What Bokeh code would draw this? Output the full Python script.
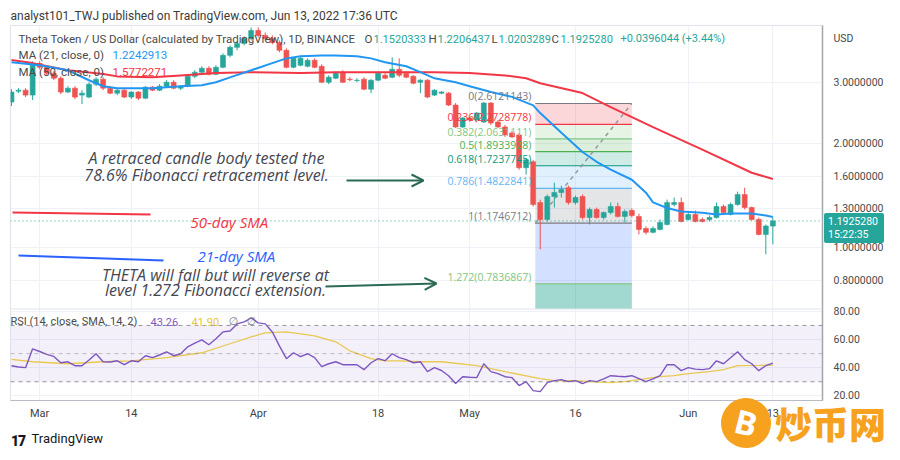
import math
import pandas as pd
from bokeh.plotting import figure
from bokeh.layouts import column
from bokeh.models import (Range1d, FixedTicker, Label, Arrow, OpenHead, Span, Title, Div,
                          BoxAnnotation, ColumnDataSource, LinearScale)
from bokeh.embed import file_html
from bokeh.resources import INLINE

# ---------------- data ----------------
dates = pd.date_range("2022-02-25", "2022-06-13", freq="D")

opens = [2.637, 2.836, 2.855, 2.762, 3.416, 3.326, 3.196, 3.092, 2.818, 2.893,
         2.762, 2.726, 2.971, 3.072, 2.893, 2.799, 2.855, 2.726, 2.818, 2.707,
         2.913, 2.855, 2.932, 3.011, 2.893, 2.932, 3.133, 3.218, 3.304, 3.175,
         3.326, 3.602, 3.799, 3.901, 4.033, 4.253, 4.114, 4.033, 3.927, 3.724,
         3.326, 3.371, 3.348, 3.485, 3.348, 3.011, 3.092, 3.218, 3.072, 3.045,
         3.072, 2.874, 3.051, 3.154, 3.113, 3.282, 3.196, 3.133, 3.011, 3.051,
         2.762, 2.799, 2.799, 2.585, 2.233, 2.371, 2.339, 2.309, 2.619, 2.309,
         2.233, 2.146, 2.118, 1.701, 1.770, 1.348, 1.204, 1.403, 1.441, 1.489,
         1.348, 1.403, 1.220, 1.287, 1.220, 1.262, 1.313, 1.229, 1.279, 1.229,
         1.134, 1.105, 1.127, 1.165, 1.330, 1.348, 1.204, 1.245, 1.204, 1.204,
         1.220, 1.313, 1.245, 1.330, 1.422, 1.304, 1.204, 1.090, 1.1520333]
highs = [2.874, 2.893, 2.893, 3.461, 3.461, 3.371, 3.239, 3.133, 2.932, 2.932,
         2.855, 3.011, 3.113, 3.113, 2.932, 2.874, 2.874, 2.836, 2.836, 2.932,
         2.932, 2.971, 3.051, 3.051, 2.952, 3.175, 3.261, 3.348, 3.348, 3.371,
         3.651, 3.850, 3.953, 4.087, 4.338, 4.338, 4.197, 4.114, 3.979, 3.774,
         3.555, 3.578, 3.531, 3.531, 3.393, 3.154, 3.239, 3.261, 3.113, 3.092,
         3.113, 3.072, 3.239, 3.196, 3.555, 3.531, 3.239, 3.154, 3.072, 3.072,
         2.874, 2.836, 2.818, 2.619, 2.387, 2.387, 2.467, 2.637, 2.637, 2.339,
         2.263, 2.175, 2.146, 1.818, 1.794, 1.375, 1.422, 1.540, 1.509, 1.509,
         1.412, 1.422, 1.304, 1.304, 1.270, 1.348, 1.348, 1.287, 1.296, 1.253,
         1.150, 1.150, 1.204, 1.375, 1.394, 1.394, 1.262, 1.279, 1.220, 1.237,
         1.348, 1.330, 1.348, 1.450, 1.489, 1.313, 1.220, 1.165, 1.2206437]
lows = [2.567, 2.799, 2.726, 2.672, 3.282, 3.154, 3.051, 2.780, 2.799, 2.690,
        2.602, 2.707, 2.932, 2.855, 2.780, 2.762, 2.707, 2.690, 2.672, 2.690,
        2.836, 2.836, 2.913, 2.874, 2.855, 2.913, 3.092, 3.175, 3.154, 3.154,
        3.304, 3.555, 3.724, 3.850, 3.979, 4.059, 3.979, 3.875, 3.675, 3.304,
        3.304, 3.348, 3.326, 3.304, 2.991, 2.971, 3.072, 2.991, 3.031, 3.011,
        2.855, 2.799, 3.031, 3.072, 3.092, 3.113, 3.092, 2.971, 2.799, 2.707,
        2.744, 2.780, 2.567, 2.218, 2.218, 2.309, 2.309, 2.293, 2.263, 2.218,
        2.090, 2.076, 1.679, 1.624, 1.313, 0.987, 1.188, 1.304, 1.394, 1.330,
        1.330, 1.204, 1.165, 1.212, 1.204, 1.245, 1.220, 1.181, 1.220, 1.090,
        1.090, 1.097, 1.119, 1.157, 1.313, 1.181, 1.196, 1.181, 1.181, 1.188,
        1.212, 1.245, 1.237, 1.321, 1.287, 1.196, 1.083, 0.955, 1.0203289]
closes = [2.818, 2.855, 2.762, 3.416, 3.326, 3.196, 3.092, 2.818, 2.893, 2.726,
          2.799, 2.971, 3.072, 2.893, 2.799, 2.855, 2.726, 2.818, 2.707, 2.913,
          2.855, 2.932, 3.011, 2.893, 2.932, 3.133, 3.218, 3.304, 3.175, 3.326,
          3.602, 3.799, 3.901, 4.033, 4.253, 4.114, 4.033, 3.927, 3.724, 3.326,
          3.531, 3.531, 3.485, 3.326, 3.011, 3.113, 3.196, 3.011, 3.062, 3.051,
          2.874, 3.051, 3.196, 3.092, 3.282, 3.154, 3.113, 2.991, 3.051, 2.726,
          2.855, 2.818, 2.585, 2.233, 2.371, 2.339, 2.451, 2.619, 2.293, 2.233,
          2.118, 2.090, 1.701, 1.794, 1.330, 1.204, 1.403, 1.441, 1.470, 1.348,
          1.394, 1.220, 1.287, 1.220, 1.262, 1.313, 1.229, 1.270, 1.237, 1.127,
          1.105, 1.134, 1.181, 1.348, 1.348, 1.188, 1.245, 1.188, 1.188, 1.220,
          1.313, 1.262, 1.330, 1.422, 1.304, 1.204, 1.090, 1.1529236, 1.1925280]

ma21_days = [0, 4, 8, 11, 13, 15, 20, 24, 27, 29, 31, 34, 37, 39, 41, 44, 46, 49, 51, 53,
             56, 58, 60, 63, 65, 68, 70, 71, 74, 75, 78, 81, 83, 85, 88, 90, 91, 93, 95, 98,
             100, 102, 105, 107, 108]
ma21_vals = [3.44, 3.37, 3.26, 3.05, 2.93, 2.89, 2.89, 2.93, 2.95, 3.01,
             3.11, 3.26, 3.42, 3.53, 3.58, 3.60, 3.60, 3.58, 3.53, 3.44,
             3.35, 3.22, 3.09, 3.01, 2.93, 2.82, 2.76, 2.73, 2.58, 2.45,
             2.15, 1.89, 1.77, 1.68, 1.57, 1.44, 1.35, 1.30, 1.27, 1.26,
             1.245, 1.253, 1.253, 1.237, 1.2242913]
ma50_days = [0, 3, 8, 13, 15, 20, 24, 29, 34, 41, 46, 56, 60, 65, 70, 73, 75, 81, 85, 91,
             98, 105, 108]
ma50_vals = [3.49, 3.42, 3.26, 3.18, 3.13, 3.11, 3.15, 3.20, 3.22, 3.20,
             3.22, 3.22, 3.22, 3.20, 3.15, 3.09, 2.99, 2.80, 2.55, 2.23,
             1.92, 1.645, 1.5772271]

rsi = [41.4, 40.5, 40.0, 53.4, 51.5, 49.5, 48.0, 43.5, 44.2, 41.4,
       41.4, 45.5, 49.9, 44.2, 44.0, 44.9, 42.1, 44.9, 44.2, 48.5,
       47.1, 49.0, 51.3, 48.5, 49.9, 54.8, 57.5, 59.8, 56.3, 60.5,
       65.4, 66.1, 71.1, 72.5, 75.3, 71.8, 71.1, 65.4, 55.5, 46.4,
       50.6, 47.8, 49.9, 47.1, 40.7, 42.8, 44.2, 42.1, 42.1, 42.1,
       38.6, 43.5, 46.4, 45.0, 49.9, 47.1, 45.7, 43.5, 44.2, 37.2,
       40.0, 38.0, 34.3, 28.7, 33.6, 33.2, 32.9, 42.8, 37.2, 35.8,
       33.6, 32.9, 27.3, 30.1, 23.7, 23.0, 29.4, 30.8, 31.5, 30.1,
       30.8, 28.7, 30.8, 30.1, 32.0, 34.3, 33.9, 33.6, 34.3, 32.2,
       30.1, 32.0, 34.3, 42.1, 42.1, 37.9, 40.0, 39.0, 38.6, 39.3,
       44.9, 42.8, 47.0, 51.3, 45.7, 42.8, 37.9, 41.4, 43.26]
rsi_ma_days = [0, 3, 8, 13, 17, 22, 27, 31, 34, 36, 39, 41, 43, 46, 48, 51, 53, 55, 58, 61,
               66, 70, 75, 77, 80, 82, 85, 87, 89, 92, 94, 96, 99, 101, 103, 106, 108]
rsi_ma_vals = [45.9, 44.2, 42.8, 44.2, 44.9, 47.1, 50.6, 57.0, 61.9, 64.7,
               65.4, 64.0, 62.6, 58.4, 52.0, 46.4, 44.9, 44.9, 44.2, 44.2,
               41.4, 37.2, 32.2, 30.8, 30.8, 30.1, 29.4, 30.1, 31.5, 33.6,
               34.3, 35.8, 37.2, 38.6, 41.4, 41.6, 41.90]

fib_levels = [0, 0.236, 0.382, 0.5, 0.618, 0.786, 1, 1.272]
fib_prices = [2.6121143, 2.2728778, 2.0631111, 1.8933928, 1.7237745, 1.4822841, 1.1746712, 0.7836867]
fib_x0, fib_x1 = 74.3, 88.0   # anchor positions (day index)

price_ticks = [0.8, 1.0, 1.3, 1.6, 2.0, 3.0]
rsi_ticks = [20, 40, 60, 80]
x_tick_dates = ["2022-03-01", "2022-03-14", "2022-04-01", "2022-04-18",
                "2022-05-01", "2022-05-16", "2022-06-01", "2022-06-13"]
x_tick_labels = ["Mar", "14", "Apr", "18", "May", "16", "Jun", "13"]
countdown = "15:22:35"

# ---------------- geometry ----------------
W, H = 892, 452
FL, FT, FR, FB = 10, 25, 822, 402          # frame edges in picture pixels
x_lo, x_hi = -0.14, 115.04
p_lo, p_hi = 0.3597, 4.396
rsi_lo, rsi_hi = 16.68, 283.1
SPLIT_Y = 310                              # picture y of pane separator
USD_Y = 38                                 # picture y of the "USD" caption

UP, DOWN = "#26a69a", "#ef5350"
ORANGE = "#f6a21e"
FONT = "Roboto"

day = list(range(len(dates)))
t0 = dates[0]
tick_days = [(pd.Timestamp(d) - t0).days for d in x_tick_dates]

def frac_to_price(f):
    return math.exp(math.log(p_lo) + f * (math.log(p_hi) - math.log(p_lo)))

def price_to_y(v):   # picture y of a price (for the html price tag)
    f = (math.log(v) - math.log(p_lo)) / (math.log(p_hi) - math.log(p_lo))
    return FB - f * (FB - FT)

def rsi_to_price(r):
    return frac_to_price((r - rsi_lo) / (rsi_hi - rsi_lo))

split_frac = (FB - SPLIT_Y) / (FB - FT)
split_price = frac_to_price(split_frac)
split_rsi = rsi_lo + split_frac * (rsi_hi - rsi_lo)
usd_pos = frac_to_price((FB - USD_Y) / (FB - FT))

p = figure(width=W, height=H, x_range=Range1d(x_lo, x_hi), y_range=Range1d(p_lo, p_hi),
           y_axis_type="log", y_axis_location="right", output_backend="svg",
           toolbar_location=None,
           title="analyst101_TWJ published on TradingView.com, Jun 13, 2022 17:36 UTC",
           min_border_left=FL, min_border_right=W - FR,
           min_border_top=FT, min_border_bottom=H - FB)
p.title.align = "left"
p.title.text_font = FONT
p.title.text_font_size = "12px"
p.title.text_font_style = "normal"
p.title.text_color = "#3a3a3a"
p.title.standoff = 6
p.extra_y_ranges = {"rsi": Range1d(rsi_lo, rsi_hi)}
p.extra_y_scales = {"rsi": LinearScale()}
p.background_fill_color = "white"
p.border_fill_color = "white"
p.outline_line_color = "#e0e3eb"

# axes
ya = p.yaxis[0]
grid_ticks = price_ticks + [rsi_to_price(r) for r in rsi_ticks]
ya.ticker = FixedTicker(ticks=grid_ticks + [usd_pos])
overrides = {t: f"{t:.7f}" for t in price_ticks}
for r in rsi_ticks:
    overrides[rsi_to_price(r)] = f"{r:.2f}"
overrides[usd_pos] = "USD"
ya.major_label_overrides = overrides
ya.major_tick_out = 0
ya.major_tick_in = 0
ya.minor_tick_out = 0
ya.minor_tick_in = 0
ya.major_label_standoff = 11
ya.axis_line_color = "#a3a6af"
ya.axis_line_width = 1.5
ya.major_label_text_font = FONT
ya.major_label_text_font_size = "10.5px"
ya.major_label_text_color = "#4a4a4a"

xa = p.xaxis[0]
xa.ticker = FixedTicker(ticks=tick_days)
xa.major_label_overrides = {d: l for d, l in zip(tick_days, x_tick_labels)}
xa.major_tick_out = 0
xa.major_tick_in = 0
xa.minor_tick_out = 0
xa.minor_tick_in = 0
xa.major_label_standoff = 6
xa.axis_line_color = "#b8bbc4"
xa.major_label_text_font = FONT
xa.major_label_text_font_size = "11px"
xa.major_label_text_color = "#3f3f3f"

p.xgrid.grid_line_color = "#eef1f7"
p.ygrid.grid_line_color = "#eef1f7"
p.ygrid.ticker = FixedTicker(ticks=grid_ticks)

# footer
p.add_layout(Title(text="TradingView", align="left", offset=21, standoff=13,
                   text_font=FONT, text_font_size="13px", text_font_style="normal",
                   text_color="#131722"), "below")

# pane separator
p.add_layout(Span(location=split_rsi, dimension="width", y_range_name="rsi",
                  line_color="#e0e3eb", line_width=1))

# ---------------- Fibonacci tool ----------------
zone_colors = ["#f23645", "#81c784", "#4caf50", "#089981", "#64b5f6", "#787b86", "#2962ff", "#089981"]
zone_alpha = [0.2, 0.2, 0.2, 0.2, 0.2, 0.2, 0.2, 0.38]
line_colors = ["#787b86", "#f23645", "#81c784", "#4caf50", "#089981", "#64b5f6", "#787b86", "#81c784"]
tops = fib_prices
bottoms = fib_prices[1:] + [split_price]
p.quad(left=[fib_x0] * len(tops), right=[fib_x1] * len(tops), top=tops, bottom=bottoms,
       fill_color=zone_colors, fill_alpha=zone_alpha, line_alpha=0)
p.segment(x0=[fib_x0] * len(fib_prices), x1=[fib_x1] * len(fib_prices),
          y0=fib_prices, y1=fib_prices, line_color=line_colors, line_width=1.2)
p.line([fib_x0, fib_x1], [fib_prices[6], fib_prices[0]], line_color="#9598a1",
       line_dash="4 4", line_width=1.5)
for lvl, pr, c in zip(fib_levels, fib_prices, line_colors):
    p.add_layout(Label(x=fib_x0, y=pr, text=f"{lvl}({pr:.7f})", text_align="right",
                       text_baseline="bottom", x_offset=-4, y_offset=0,
                       text_font="Open Sans", text_font_size="10.5px", text_color=c))

# current price dotted line
p.add_layout(Span(location=closes[-1], dimension="width", line_color=UP,
                  line_dash="1 3", line_width=1))

# ---------------- candles ----------------
colors = [UP if c >= o else DOWN for o, c in zip(opens, closes)]
src = ColumnDataSource(dict(x=day, o=opens, h=highs, l=lows, c=closes,
                            top=[max(o, c) for o, c in zip(opens, closes)],
                            bot=[min(o, c) for o, c in zip(opens, closes)],
                            color=colors))
p.segment(x0="x", y0="h", x1="x", y1="l", line_color="color", line_width=1, source=src)
p.vbar(x="x", width=0.7, top="top", bottom="bot", fill_color="color",
       line_color="color", line_width=0.6, source=src)

# moving averages
p.line(ma50_days, ma50_vals, line_color="#f23645", line_width=2)
p.line(ma21_days, ma21_vals, line_color="#2196f3", line_width=2)

# ---------------- RSI pane ----------------
p.add_layout(BoxAnnotation(bottom=30, top=70, y_range_name="rsi",
                           fill_color="#7e57c2", fill_alpha=0.09, line_alpha=0))
for lv, a in [(70, 0.8), (50, 0.45), (30, 0.8)]:
    p.add_layout(Span(location=lv, dimension="width", y_range_name="rsi",
                      line_color="#787b86", line_alpha=a, line_dash="4 4", line_width=1))
p.line(rsi_ma_days, rsi_ma_vals, line_color="#f5d547", line_width=1.3, y_range_name="rsi")
p.line(day, rsi, line_color="#7e57c2", line_width=1.4, y_range_name="rsi")

# ---------------- texts ----------------
def lab(text, px, py, size="11px", color="#4a4a4a", align="left", baseline="middle",
        style="normal", font=FONT, **kw):
    p.add_layout(Label(x=px - FL, y=FB - py, x_units="screen", y_units="screen",
                       text=text, text_font_size=size, text_color=color,
                       text_align=align, text_baseline=baseline,
                       text_font_style=style, text_font=font, **kw))

chg = closes[-1] - closes[-2]
pct = chg / closes[-2] * 100
LEG = "11.5px"
VAL = "11px"
lab("Theta Token / US Dollar (calculated by TradingView), 1D, BINANCE", 18, 40, size=LEG)
lab("O", 364, 40, size=LEG); lab(f"{opens[-1]:.7f}", 373, 40, color=UP, size=VAL)
lab("H", 428, 40, size=LEG); lab(f"{highs[-1]:.7f}", 437, 40, color=UP, size=VAL)
lab("L", 491, 40, size=LEG); lab(f"{lows[-1]:.7f}", 498, 40, color=UP, size=VAL)
lab("C", 551, 40, size=LEG); lab(f"{closes[-1]:.7f}", 560, 40, color=UP, size=VAL)
lab(f"{chg:+.7f} ({pct:+.2f}%)", 620, 40, color=UP, size=VAL)
lab("MA (21, close, 0)", 18, 56, size=LEG)
lab(f"{ma21_vals[-1]:.7f}", 112, 56, color="#2196f3", size=LEG)
lab("MA (50, close, 0)", 18, 73, size=LEG)
lab(f"{ma50_vals[-1]:.7f}", 112, 73, color="#f23645", size=LEG)

lab("RSI (14, close, SMA, 14, 2)", 10, 323)
lab(f"{rsi[-1]:.2f}", 150, 323, color="#7e57c2")
lab(f"{rsi_ma_vals[-1]:.2f}", 191, 323, color="#e8c53a")
lab("\u2205", 228, 323, color="#787b86", font="DejaVu Sans")
lab("\u2205", 246, 323, color="#787b86", font="DejaVu Sans")

# annotations
NOTE = "#434651"
lab("A retraced candle body tested the", 206, 159, size="16px", color=NOTE, align="center",
    style="italic", font="Open Sans")
lab("78.6% Fibonacci retracement level.", 206, 176, size="16px", color=NOTE, align="center",
    style="italic", font="Open Sans")
lab("THETA will fall but will reverse at", 215, 276, size="16px", color=NOTE, align="center",
    style="italic", font="Open Sans")
lab("level 1.272 Fibonacci extension.", 215, 291, size="16px", color=NOTE, align="center",
    style="italic", font="Open Sans")
lab("50-day SMA", 190, 223, size="15px", color="#f23645", style="italic", font="Open Sans")
lab("21-day SMA", 197, 257, size="15px", color="#2962ff", style="italic", font="Open Sans")

ARROW = "#2d6a55"
def arrow(x0, y0, x1, y1, color, head=True):
    kw = dict(end=OpenHead(size=12, line_color=color, line_width=2)) if head else dict(end=None)
    p.add_layout(Arrow(x_start=x0 - FL, y_start=FB - y0, x_end=x1 - FL, y_end=FB - y1,
                       start_units="screen", end_units="screen",
                       line_color=color, line_width=2, **kw))

arrow(346, 182, 423, 182, ARROW)
arrow(325, 288, 436, 285, ARROW)
arrow(12, 214, 150, 216, "#f23645", head=False)
arrow(18, 257, 163, 262, "#2962ff", head=False)

# ---------------- html overlays (outside the plot frame) ----------------
def overlay(html, left, top, w, h):
    return Div(text=html, width=w, height=h,
               styles={"position": "absolute", "left": f"{left}px", "top": f"{top}px",
                       "z-index": "10", "margin": "0", "padding": "0"})

tag_top = round(price_to_y(closes[-1])) - 8
tag = overlay(
    f'<div style="background:{UP};color:#fff;font-family:Roboto;font-size:10.5px;'
    f'line-height:13px;padding:2px 0 2px 4px;width:60px;border-radius:2px;">'
    f'{closes[-1]:.7f}<br>{countdown}</div>', 824, tag_top, 64, 30)

logo = overlay('<div style="font-family:Roboto;font-weight:900;font-size:14px;'
               'color:#131722;line-height:16px;letter-spacing:-1px;">17</div>', 11, 433, 20, 18)

wm = overlay(
    f'<div style="display:flex;align-items:center;">'
    f'<div style="width:50px;height:50px;border-radius:50%;background:{ORANGE};color:#fff;'
    f'font-family:\'Open Sans\';font-weight:bold;font-size:33px;line-height:50px;'
    f'text-align:center;transform:rotate(14deg);">B</div>'
    f'<div style="color:{ORANGE};font-family:\'Noto Sans CJK SC\';font-weight:900;'
    f'font-size:37px;line-height:46px;margin-left:4px;">炒币网</div></div>',
    721, 398, 171, 52)

layout = column(p, tag, logo, wm)
open("out.html", "w").write(file_html(layout, INLINE))
